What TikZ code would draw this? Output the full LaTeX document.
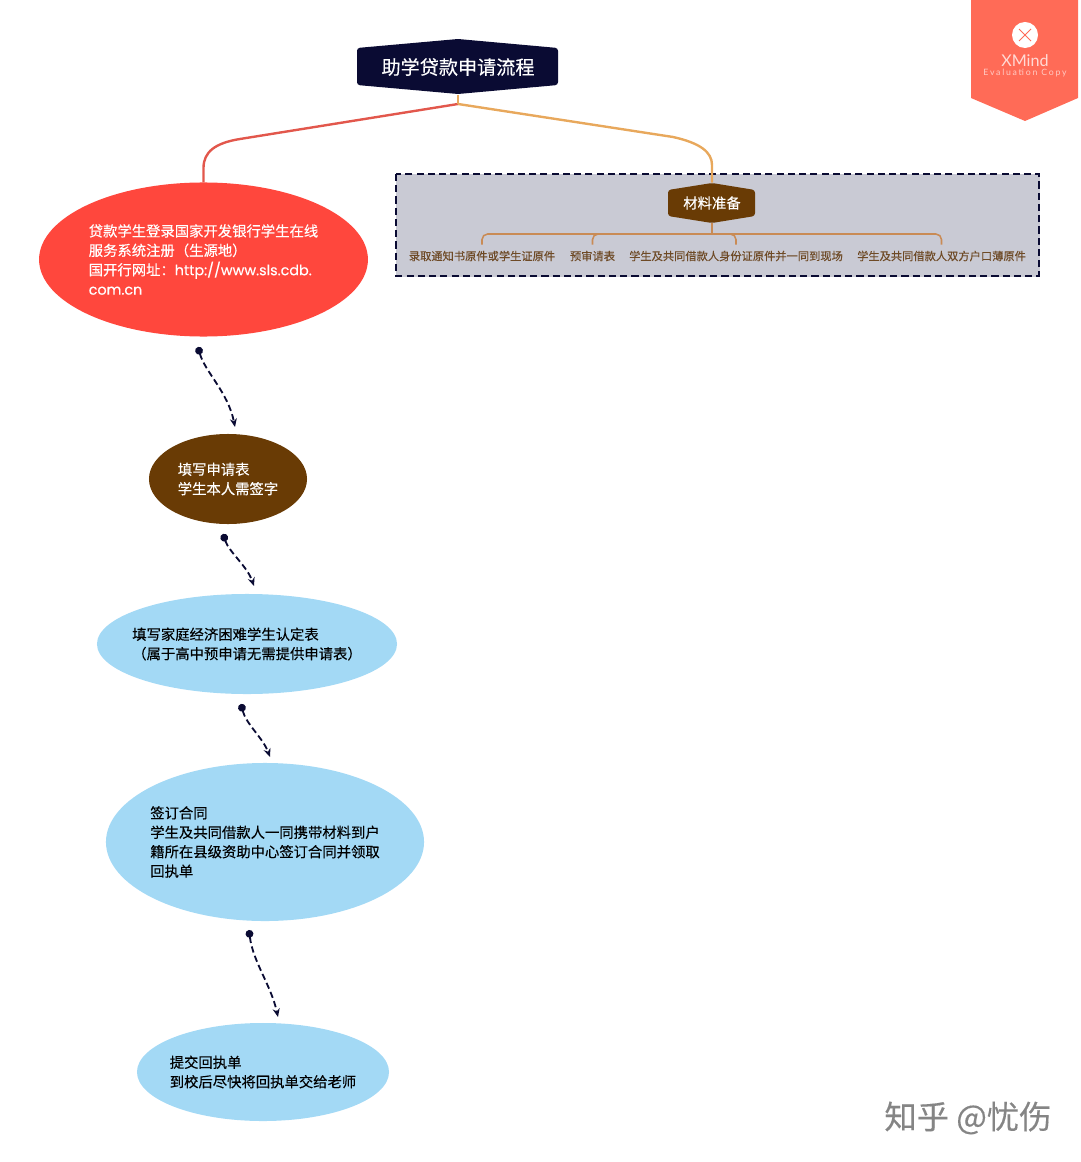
\documentclass[tikz,border=0pt]{standalone}
\usepackage{fontspec}
\setmainfont{Noto Sans CJK SC}[FakeBold=0.25]
\newfontfamily\logofont{Lato}
\newfontfamily\urlfont{Poppins}[FakeBold=0.25]
\usetikzlibrary{arrows.meta,shapes.geometric}
\definecolor{navyink}{HTML}{0A0B33}
\definecolor{loanred}{HTML}{FF473D}
\definecolor{loanbrown}{HTML}{693B05}
\definecolor{loanblue}{HTML}{A3D9F5}
\definecolor{redline}{HTML}{E2574C}
\definecolor{sandline}{HTML}{E8A85C}
\definecolor{railline}{HTML}{C98B55}
\definecolor{framefill}{HTML}{C9CAD4}
\definecolor{labelink}{HTML}{6E4A26}
\definecolor{ribbon}{HTML}{FF6B57}
\tikzset{
    stage/.style={ellipse, inner xsep=-0.6cm, inner ysep=-0.3cm, outer sep=0pt, align=left, font=\fontsize{10.2}{13.8}\selectfont},
    hexlabel/.style={inner sep=0pt, text=white},
    leaf/.style={inner sep=0pt, text=labelink, minimum height=0.55cm, font=\fontsize{8}{10}\selectfont},
    stepline/.style={{Circle[length=5.5pt]}-{Stealth[length=6pt,width=5pt]}, navyink, line width=1.3pt, dash pattern=on 4.5pt off 2.5pt},
    rail/.style={railline, line width=1.1pt, rounded corners=4pt},
}
\begin{document}
\begin{tikzpicture}[x=0.025cm,y=-0.025cm]
    \useasboundingbox (0,0) rectangle (1080,1162);

    % ribbon
    \fill[ribbon] (971,0) -- (1078,0) -- (1078,98) -- (1025,121) -- (971,98) -- cycle;
    \node[circle, fill=white, minimum size=0.65cm, inner sep=0pt] (logo) at (1025,35) {};
    \draw[ribbon, line width=0.7pt] (1019,29) -- (1031,41) (1031,29) -- (1019,41);
    \node[text=white!75!ribbon, font=\logofont\fontsize{11.5}{12}\selectfont, inner sep=0pt] (xmind) at (1025,61) {XMind};
    \node[text=white!65!ribbon, font=\logofont\fontsize{6.2}{7}\selectfont\addfontfeature{LetterSpace=20}, inner sep=0pt] (copy) at (1025,73) {Evaluation Copy};

    % frame
    \draw[framefill, fill=framefill] (396,174) rectangle (1039,276);
    \draw[navyink, line width=1.1pt, dash pattern=on 5pt off 3pt] (396,174) rectangle (1039,276);

    % hexagons
    \fill[navyink, rounded corners=2pt] (357,48) -- (458,39) -- (558,48) -- (558,85) -- (458,94) -- (357,85) -- cycle;
    \fill[loanbrown, rounded corners=2pt] (668,190) -- (712,183) -- (755,190) -- (755,216) -- (712,223) -- (668,216) -- cycle;
    \node[hexlabel, minimum width=5cm, minimum height=1.375cm, font=\fontsize{13.6}{16}\selectfont] (root) at (458,67) {助学贷款申请流程};
    \node[hexlabel, minimum width=2.2cm, minimum height=1cm, font=\fontsize{10.2}{12}\selectfont] (prep) at (712,203) {材料准备};

    % stages
    \node[stage, fill=loanred, text=white, minimum width=8.22cm, minimum height=3.85cm] (s1) at (203.5,259.5) {贷款学生登录国家开发银行学生在线\\服务系统注册（生源地）\\国开行网址：{\urlfont http://www.sls.cdb.}\\{\urlfont com.cn}};
    \node[stage, fill=loanbrown, text=white, minimum width=3.95cm, minimum height=2.25cm] (s2) at (228,479) {填写申请表\\学生本人需签字};
    \node[stage, fill=loanblue, text=black, minimum width=7.5cm, minimum height=2.5cm] (s3) at (247,644) {填写家庭经济困难学生认定表\\（属于高中预申请无需提供申请表）};
    \node[stage, fill=loanblue, text=black, minimum width=7.95cm, minimum height=3.95cm] (s4) at (265,842) {签订合同\\学生及共同借款人一同携带材料到户\\籍所在县级资助中心签订合同并领取\\回执单};
    \node[stage, fill=loanblue, text=black, minimum width=6.3cm, minimum height=2.45cm] (s5) at (263,1072) {提交回执单\\到校后尽快将回执单交给老师};

    % leaves
    \node[leaf] (l1) at (482,256) {录取通知书原件或学生证原件};
    \node[leaf] (l2) at (592.5,256) {预审请表};
    \node[leaf] (l3) at (736,256) {学生及共同借款人身份证原件并一同到现场};
    \node[leaf] (l4) at (941.5,256) {学生及共同借款人双方户口薄原件};

    % branches
    \coordinate (fork) at (458,104);
    \coordinate (railmid) at (712,234);
    \draw[redline, line width=1.7pt] (fork) -- (240,139) .. controls (215,143) and (203.5,152) .. (203.5,168) -- (s1.north);
    \draw[sandline, line width=1.7pt] (fork) -- (673,137) .. controls (700,143) and (712,152) .. (712,165) -- (prep.north);
    \draw[sandline, line width=1.7pt] (root.south) -- (fork);
    \draw[railline, line width=1.1pt] (prep.south) -- (railmid);
    \draw[rail] (railmid) -| (l1.north);
    \draw[rail] (railmid) -| (l2.north);
    \draw[rail] (railmid) -| (l3.north);
    \draw[rail] (railmid) -| (l4.north);

    % steps
    \coordinate (a1) at (198,347); \coordinate (b1) at (235,427);
    \coordinate (a2) at (223,534); \coordinate (b2) at (254,586);
    \coordinate (a3) at (241,704); \coordinate (b3) at (270,757);
    \coordinate (a4) at (249,930); \coordinate (b4) at (278,1017);
    \draw[stepline] (a1) .. controls (205,372) and (228,392) .. (b1);
    \draw[stepline] (a2) .. controls (229,552) and (247,566) .. (b2);
    \draw[stepline] (a3) .. controls (246,724) and (263,738) .. (b3);
    \draw[stepline] (a4) .. controls (253,962) and (271,985) .. (b4);

    % mark
    \node[text=black!48, font=\fontsize{23}{26}\selectfont, inner sep=0pt] (mark) at (968,1118) {知乎 @忧伤};
\end{tikzpicture}
\end{document}
